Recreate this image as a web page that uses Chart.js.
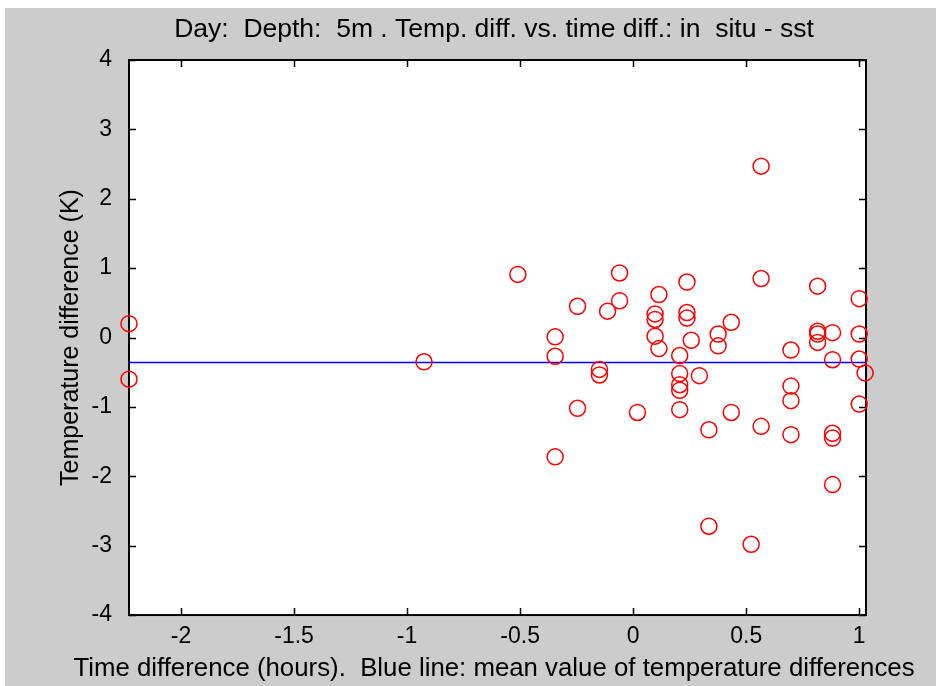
<!doctype html>
<html lang="en">
<head>
  <meta charset="utf-8">
  <title>Temp. diff. vs. time diff.</title>
  <script src="https://cdn.jsdelivr.net/npm/chart.js/dist/chart.umd.min.js"></script>
  <style>
    body { margin: 0; background: #fff; }
    canvas { display: block; }
  </style>
</head>
<body>
  <canvas id="myChart" width="942" height="686"></canvas>
  <script>
    // time difference (hours) and temperature difference (K), in situ - sst
    const timeDiff = [
      -2.23, -2.23, -0.925, -0.51, -0.345, -0.345, -0.345, -0.246, -0.246,
      -0.149, -0.149, -0.113, -0.06, -0.06, 0.019, 0.097, 0.097, 0.097,
      0.114, 0.114, 0.206, 0.206, 0.206, 0.206, 0.206, 0.238, 0.238, 0.238,
      0.257, 0.293, 0.335, 0.335, 0.376, 0.376, 0.434, 0.434, 0.522,
      0.566, 0.566, 0.566, 0.698, 0.698, 0.698, 0.698, 0.816, 0.816, 0.816,
      0.816, 0.882, 0.882, 0.882, 0.882, 0.882, 1.0, 1.0, 1.0, 1.0, 1.026
    ];
    const tempDiff = [
      0.2, -0.6, -0.35, 0.91, 0.01, -0.27, -1.72, 0.45, -1.02,
      -0.46, -0.54, 0.38, 0.93, 0.53, -1.08, 0.34, 0.26, 0.02,
      0.62, -0.16, -0.26, -0.52, -0.68, -0.76, -1.04, 0.80, 0.36, 0.28,
      -0.04, -0.55, -1.33, -2.72, 0.05, -0.12, 0.22, -1.08, -2.98,
      2.47, 0.85, -1.28, -0.18, -0.70, -0.91, -1.40, 0.74, 0.09, 0.05,
      -0.07, 0.07, -0.32, -1.38, -1.45, -2.12, 0.56, 0.05, -0.31, -0.96, -0.51
    ];
    const meanDiff = -0.36;
    const xRange = [-2.23, 1.03];
    const yRange = [-4, 4];
    const xTicks = [-2, -1.5, -1, -0.5, 0, 0.5, 1];
    const yTicks = [-4, -3, -2, -1, 0, 1, 2, 3, 4];

    const family = "'Liberation Sans', Arial, sans-serif";
    const tickFont = { family, size: 23 };

    // grey figure, white axes, box with inward ticks on all sides
    const matlabBox = {
      id: 'matlabBox',
      beforeDraw(chart) {
        const { ctx, chartArea: a } = chart;
        ctx.save();
        ctx.fillStyle = '#cccccc';
        ctx.fillRect(5, 8, 931, 678);
        ctx.fillStyle = '#ffffff';
        ctx.fillRect(a.left, a.top, a.right - a.left, a.bottom - a.top);
        ctx.restore();
      },
      beforeDatasetsDraw(chart) {
        const { ctx, chartArea: a, scales } = chart;
        const len = 7;
        ctx.save();
        ctx.strokeStyle = '#000';
        ctx.lineWidth = 1.5;
        ctx.beginPath();
        xTicks.forEach(v => {
          const px = Math.round(scales.x.getPixelForValue(v)) + 0.5;
          ctx.moveTo(px, a.bottom); ctx.lineTo(px, a.bottom - len);
          ctx.moveTo(px, a.top); ctx.lineTo(px, a.top + len);
        });
        yTicks.forEach(v => {
          const py = Math.round(scales.y.getPixelForValue(v)) + 0.5;
          ctx.moveTo(a.left, py); ctx.lineTo(a.left + len, py);
          ctx.moveTo(a.right, py); ctx.lineTo(a.right - len, py);
        });
        ctx.stroke();
        ctx.lineWidth = 2;
        ctx.strokeRect(a.left, a.top, a.right - a.left, a.bottom - a.top);
        ctx.restore();
      }
    };

    const config = {
      type: 'scatter',
      data: {
        datasets: [
          {
            type: 'line',
            data: xRange.map(x => ({ x, y: meanDiff })),
            borderColor: '#0000ff',
            borderWidth: 1.6,
            pointRadius: 0,
            order: 2
          },
          {
            data: timeDiff.map((x, i) => ({ x, y: tempDiff[i] })),
            pointStyle: 'circle',
            pointRadius: 8,
            borderColor: '#ff0000',
            backgroundColor: 'rgba(0,0,0,0)',
            borderWidth: 1.5,
            clip: false,
            order: 1
          }
        ]
      },
      options: {
        responsive: false,
        animation: false,
        // left padding centres the title and x label over the axes box
        layout: { padding: { left: 46 } },
        plugins: {
          legend: { display: false },
          tooltip: { enabled: false },
          title: {
            display: true,
            text: 'Day:  Depth:  5m . Temp. diff. vs. time diff.: in  situ - sst',
            color: '#000',
            font: { family, size: 26.5, weight: 'normal' },
            padding: { top: 14, bottom: 14.2 }
          },
          subtitle: {
            display: true,
            position: 'bottom',
            text: 'Time difference (hours).  Blue line: mean value of temperature differences',
            color: '#000',
            font: { family, size: 25.8 },
            padding: { top: 0, bottom: 2 }
          }
        },
        scales: {
          x: {
            type: 'linear',
            min: xRange[0],
            max: xRange[1],
            afterFit(scale) { scale.height = 38; },
            afterBuildTicks(scale) { scale.ticks = xTicks.map(v => ({ value: v })); },
            grid: { display: false, drawTicks: false },
            border: { display: false },
            ticks: { color: '#000', font: tickFont, padding: 8, maxRotation: 0, callback: v => String(v) }
          },
          y: {
            type: 'linear',
            min: yRange[0],
            max: yRange[1],
            afterFit(scale) { scale.width = 83; },
            afterBuildTicks(scale) { scale.ticks = yTicks.map(v => ({ value: v })); },
            grid: { display: false, drawTicks: false },
            border: { display: false },
            ticks: { color: '#000', font: tickFont, padding: 17, callback: v => String(v) },
            title: {
              display: true,
              text: 'Temperature difference (K)',
              color: '#000',
              font: { family, size: 25 },
              padding: { top: 10, bottom: 0 }
            }
          },
          // empty right axis keeps the grey margin on the right
          yRight: {
            type: 'linear',
            position: 'right',
            min: yRange[0],
            max: yRange[1],
            afterFit(scale) { scale.width = 76; },
            grid: { display: false, drawTicks: false },
            border: { display: false },
            ticks: { display: false }
          }
        }
      },
      plugins: [matlabBox]
    };

    new Chart(document.getElementById('myChart'), config);
  </script>
</body>
</html>
